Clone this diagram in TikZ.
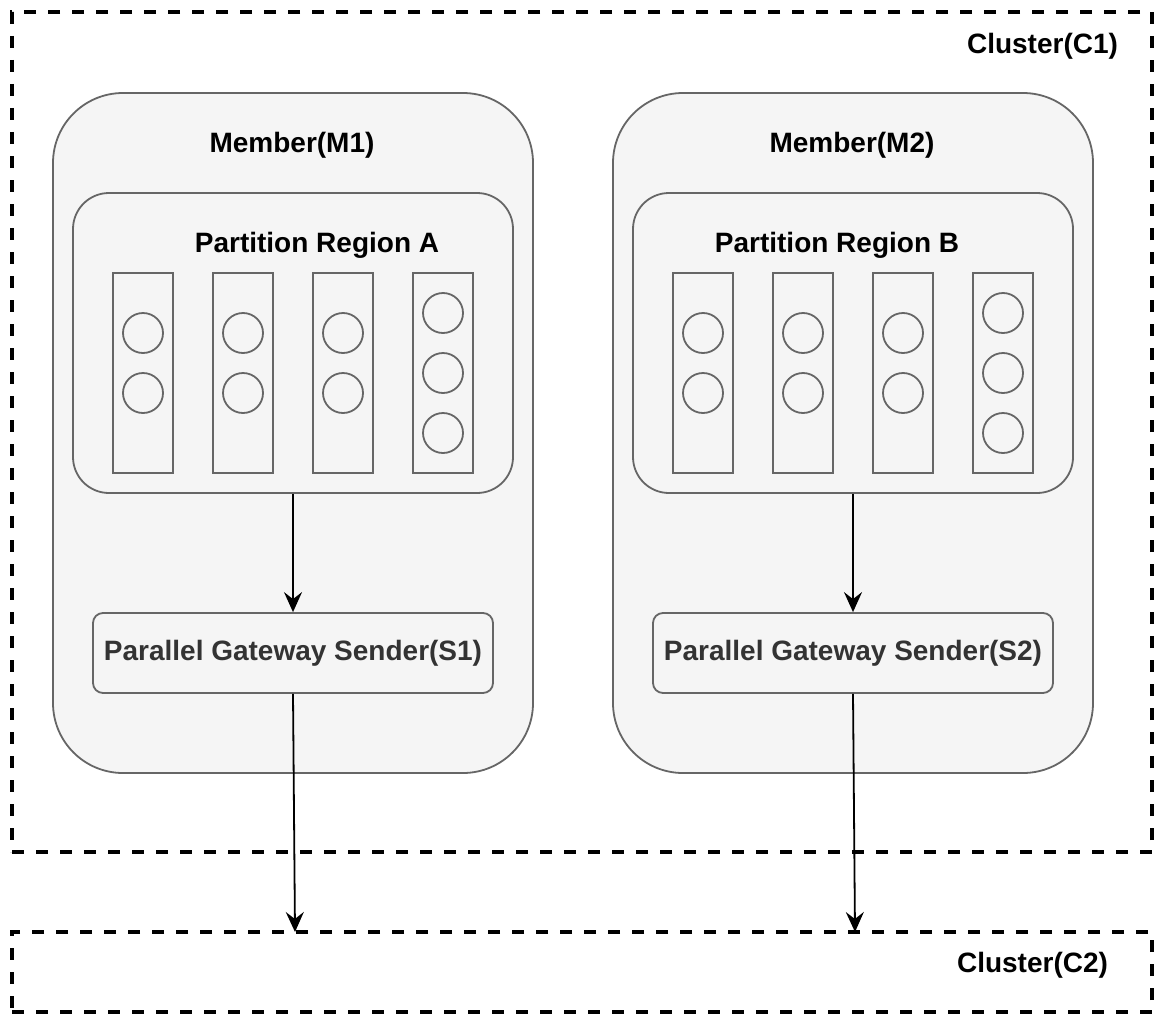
\documentclass[tikz,border=0pt]{standalone}
\usepackage{fontspec}
\setmainfont{Liberation Sans}
\usepackage{tikz}
\usetikzlibrary{arrows.meta,positioning}
\definecolor{boxgray}{HTML}{666666}
\definecolor{boxfill}{HTML}{F5F5F5}
\definecolor{sendtext}{HTML}{333333}
\tikzstyle{cluster} = [rectangle, draw=black, line width=1.8pt, dash pattern=on 6pt off 6pt, minimum width=570pt, inner sep=0pt]
\tikzstyle{member} = [rectangle, rounded corners=35pt, draw=boxgray, line width=0.9pt, fill=boxfill, minimum width=240pt, minimum height=340pt]
\tikzstyle{region} = [rectangle, rounded corners=18pt, draw=boxgray, line width=0.9pt, fill=boxfill, minimum width=220pt, minimum height=150pt]
\tikzstyle{bucket} = [rectangle, draw=boxgray, line width=0.9pt, fill=boxfill, minimum width=30pt, minimum height=100pt]
\tikzstyle{entry} = [circle, draw=boxgray, line width=0.9pt, fill=boxfill, minimum size=20pt, inner sep=0pt]
\tikzstyle{sender} = [rectangle, rounded corners=5pt, draw=boxgray, line width=0.9pt, fill=boxfill, minimum width=200pt, minimum height=40pt, text=sendtext, font=\fontsize{14}{17}\selectfont\bfseries]
\tikzstyle{textonly} = [draw=none, fill=none, text centered, font=\fontsize{14}{17}\selectfont\bfseries]
\tikzstyle{tedge}  = [draw, line width=0.9pt, -{Stealth[length=10pt,width=9pt,inset=3.5pt]}]

\begin{document}
\begin{tikzpicture}[x=0.5pt, y=-0.5pt]
\useasboundingbox (0,0) rectangle (1160,1022);

% clusters =============================
\node[cluster, minimum height=420pt] (C1) at (582,432) {};
\node[cluster, minimum height=40pt] (C2) at (582,972) {};
\node[textonly, anchor=east] (C1label) at (1125,46) {Cluster(C1)};
\node[textonly, anchor=east] (C2label) at (1115,965) {Cluster(C2)};

% members ==============================
\node[member] (M1) at (293,433) {};
\node[member] (M2) at (853,433) {};
\node[textonly] (M1label) at (292,145) {Member(M1)};
\node[textonly] (M2label) at (852,145) {Member(M2)};

% regions
\node[region] (RA) at (293,343) {};
\node[region] (RB) at (853,343) {};
\node[textonly] (RAlabel) at (317,245) {Partition Region A};
\node[textonly] (RBlabel) at (837,245) {Partition Region B};

% buckets and entries
\foreach \r/\dx in {A/0, B/560} {
  \foreach \i/\bx in {1/143, 2/243, 3/343} {
    \node[bucket] (\r\i) at (\bx+\dx,373) {};
    \node[entry] (\r\i a) at (\bx+\dx,333) {};
    \node[entry] (\r\i b) at (\bx+\dx,393) {};
  }
  \node[bucket] (\r4) at (443+\dx,373) {};
  \node[entry] (\r4a) at (443+\dx,313) {};
  \node[entry] (\r4b) at (443+\dx,373) {};
  \node[entry] (\r4c) at (443+\dx,433) {};
}

% senders
\node[sender] (S1) at (293,653) {Parallel Gateway Sender(S1)};
\node[sender] (S2) at (853,653) {Parallel Gateway Sender(S2)};

% edges
\coordinate (C2in1) at (295,932);
\coordinate (C2in2) at (855,932);
\path[tedge] (RA.south) -- (S1.north);
\path[tedge] (RB.south) -- (S2.north);
\path[tedge] (S1.south) -- (C2in1);
\path[tedge] (S2.south) -- (C2in2);

\end{tikzpicture}
\end{document}
